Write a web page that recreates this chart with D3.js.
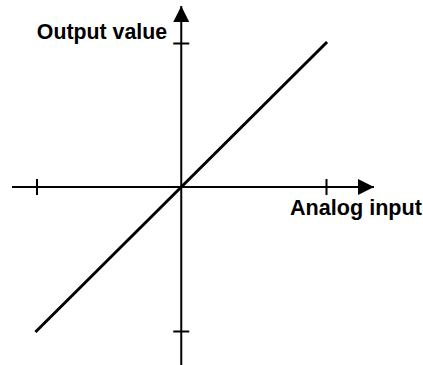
<!DOCTYPE html>
<html>
<head>
<meta charset="utf-8">
<script src="https://cdn.jsdelivr.net/npm/d3@7"></script>
<style>
  body { margin: 0; background: #fff; }
  text { font-family: "Liberation Sans", Arial, sans-serif; font-weight: bold; }
</style>
</head>
<body>
<div id="canvas"></div>
<script>
// -------------------------------------------- Data
const inputValues = [-1, 1];
const outputValues = [-1, 1];
const xTicks = [-1, 1];
const yTicks = [-1, 1];
const xLabel = "Analog input";
const yLabel = "Output value";

// -------------------------------------------- Lienzo
const width = 423;
const height = 365;

const svg = d3.select("#canvas").append("svg")
  .attr("width", width)
  .attr("height", height);

const x = d3.scaleLinear().domain([-1, 1]).range([36.5, 326]);
const y = d3.scaleLinear().domain([-1, 1]).range([331, 43]);
const x0 = x(0);
const y0 = y(0);

// ----- Flechas
const defs = svg.append("defs");
defs.append("marker")
  .attr("id", "arrow")
  .attr("viewBox", "0 0 16 16")
  .attr("refX", 16)
  .attr("refY", 8)
  .attr("markerWidth", 16)
  .attr("markerHeight", 16)
  .attr("markerUnits", "userSpaceOnUse")
  .attr("orient", "auto")
  .append("path")
  .attr("d", "M0,0 L16,8 L0,16 Z")
  .attr("fill", "#000");

// ----- Eje X
svg.append("line")
  .attr("x1", 12).attr("y1", y0)
  .attr("x2", 374).attr("y2", y0)
  .attr("stroke", "#000").attr("stroke-width", 2)
  .attr("marker-end", "url(#arrow)");

svg.append("g")
  .attr("transform", `translate(0, ${y0 - 8})`)
  .call(d3.axisBottom(x).tickValues(xTicks).tickSize(16).tickFormat(""))
  .call((g) => g.select(".domain").remove())
  .call((g) => g.selectAll("line").attr("stroke", "#000").attr("stroke-width", 2));

// ----- Eje Y
svg.append("line")
  .attr("x1", x0).attr("y1", 365)
  .attr("x2", x0).attr("y2", 6)
  .attr("stroke", "#000").attr("stroke-width", 2)
  .attr("marker-end", "url(#arrow)");

svg.append("g")
  .attr("transform", `translate(${x0 + 8}, 0)`)
  .call(d3.axisLeft(y).tickValues(yTicks).tickSize(16).tickFormat(""))
  .call((g) => g.select(".domain").remove())
  .call((g) => g.selectAll("line").attr("stroke", "#000").attr("stroke-width", 2));

// ----- Linea
const line = d3.line()
  .x((d, i) => x(d))
  .y((d, i) => y(outputValues[i]));

svg.append("path")
  .datum(inputValues)
  .attr("d", line)
  .attr("fill", "none")
  .attr("stroke", "#000")
  .attr("stroke-width", 3)
  .attr("stroke-linecap", "square");

// ----- Etiquetas
svg.append("text")
  .attr("x", 167).attr("y", 39)
  .attr("text-anchor", "end")
  .attr("font-size", 21.3)
  .text(yLabel);

svg.append("text")
  .attr("x", 290).attr("y", 215)
  .attr("font-size", 21.6)
  .text(xLabel);
</script>
</body>
</html>
